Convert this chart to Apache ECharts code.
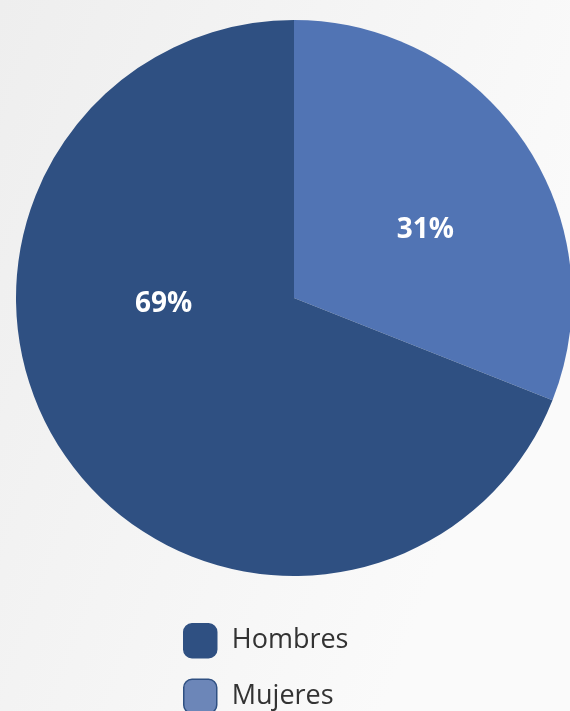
<!DOCTYPE html>
<html><head><meta charset="utf-8">
<script src="https://cdn.jsdelivr.net/npm/echarts@6/dist/echarts.min.js"></script>
<style>html,body{margin:0;padding:0;}#c{width:570px;height:711px;}</style>
</head><body><div id="c"></div>
<script>
const categories = ['Hombres', 'Mujeres'];
const values = [69, 31];
const sliceColors = ['#2f5082', '#5174b4'];
const legendColors = ['#2f5082', '#6c86b8'];
const labelShift = [[-13, -74], [14, 12]];

const chart = echarts.init(document.getElementById('c'));
const pieData = [1, 0].map(i => ({
  name: categories[i], value: values[i],
  itemStyle: { color: sliceColors[i] }
}));
chart.setOption({
  backgroundColor: {
    type: 'linear', x: 0, y: 0, x2: 1, y2: 0.3,
    colorStops: [{ offset: 0, color: '#eeeeee' }, { offset: 1, color: '#fafafa' }]
  },
  legend: {
    orient: 'vertical', left: 183, top: 623, height: 200, padding: 0,
    itemWidth: 33, itemHeight: 34, itemGap: 20,
    icon: 'roundRect',
    textStyle: { fontFamily: 'Open Sans', fontSize: 27, color: '#333333', padding: [0, 0, 0, 10] },
    data: categories.map((n, i) => ({
      name: n,
      itemStyle: { color: legendColors[i], borderColor: '#2f5082', borderWidth: 1.5 }
    }))
  },
  series: [{
    type: 'pie',
    center: [294, 298],
    radius: [0, 278],
    startAngle: 90,
    clockwise: true,
    avoidLabelOverlap: false,
    silent: true,
    itemStyle: { borderWidth: 0 },
    label: {
      show: true, position: 'inside',
      formatter: p => p.value + '%',
      fontFamily: 'Open Sans', fontWeight: 'bold', fontSize: 28, color: '#ffffff'
    },
    labelLine: { show: false },
    labelLayout: params => {
      const i = categories.indexOf(pieData[params.dataIndex].name);
      return { dx: labelShift[i][0], dy: labelShift[i][1] };
    },
    data: pieData
  }]
});
</script></body></html>
